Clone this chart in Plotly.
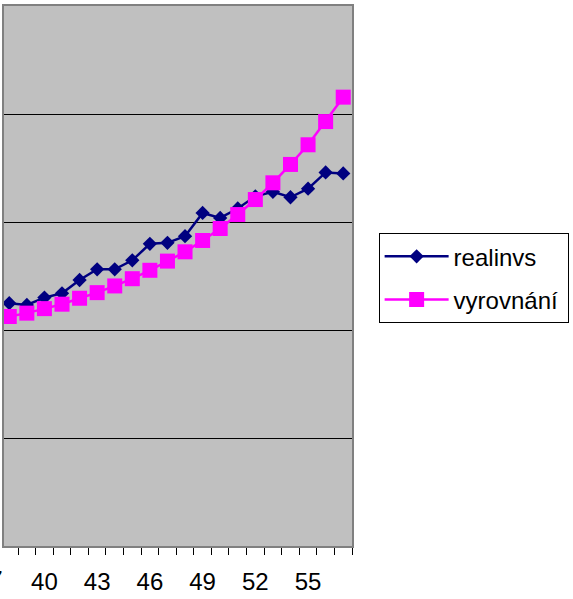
import plotly.graph_objects as go

categories = list(range(38, 58))
realinvs = [224.8, 223.2, 230.0, 234.0, 246.3, 256.2, 256.2, 264.5, 279.8, 280.7,
            286.9, 308.4, 303.8, 312.5, 323.8, 328.0, 322.9, 330.9, 345.9, 345.0]
vyrovnani = [212.5, 215.6, 219.8, 223.9, 229.4, 234.6, 240.8, 247.5, 255.3, 263.8,
             272.4, 282.9, 294.0, 306.9, 320.8, 336.3, 353.3, 371.5, 393.0, 415.6]
tick_labels = [40, 43, 46, 49, 52, 55]
hidden_label = 37

FONT = "Liberation Sans, Arial, sans-serif"
FS = 24
x_range = [37.7, 57.5]
PAD = "\u2009"

fig = go.Figure()
fig.add_trace(go.Scatter(
    x=categories, y=realinvs, name="realinvs", mode="lines+markers",
    line=dict(color="#000080", width=2.5),
    marker=dict(symbol="diamond", size=11, color="#000080"),
    legendgroup="a",
))
fig.add_trace(go.Scatter(
    x=categories, y=vyrovnani, name="vyrovnání" + PAD, mode="lines+markers",
    line=dict(color="#ff00ff", width=2.5),
    marker=dict(symbol="square", size=15, color="#ff00ff"),
    legendgroup="b",
))

fig.update_layout(
    width=573, height=599,
    margin=dict(l=4, r=216, t=4, b=53),
    paper_bgcolor="white",
    plot_bgcolor="#c0c0c0",
    font=dict(family=FONT, size=FS, color="black"),
    showlegend=True,
    legend=dict(
        x=1.0765, y=0.5793, xanchor="left", yanchor="top",
        bgcolor="white", bordercolor="black", borderwidth=1,
        font=dict(family=FONT, size=FS, color="black"),
        itemwidth=64, tracegroupgap=9,
    ),
    xaxis=dict(
        range=x_range,
        tickmode="array", tickvals=tick_labels, ticktext=[str(v) for v in tick_labels],
        ticks="", showgrid=False, zeroline=False,
        showline=True, linecolor="#808080", linewidth=2, mirror=True,
        minor=dict(ticks="outside", tick0=0.5, dtick=1, ticklen=7,
                   tickcolor="black", tickwidth=1, showgrid=False),
        ticklabelstandoff=13,
        tickfont=dict(family=FONT, size=FS, color="black"),
    ),
    yaxis=dict(
        range=[0, 500], dtick=100, showticklabels=False, ticks="",
        showgrid=True, gridcolor="black", gridwidth=1, zeroline=False,
        showline=True, linecolor="#808080", linewidth=2, mirror=True,
    ),
)

# partially visible category label left of the visible plot area
fig.add_annotation(
    x=(hidden_label - x_range[0]) / (x_range[1] - x_range[0]), xref="paper",
    xanchor="center", xshift=-2,
    y=0, yref="paper", yanchor="top", yshift=-18,
    text=str(hidden_label), showarrow=False,
    font=dict(family=FONT, size=FS, color="black"),
)

fig.write_html("out.html", config={"displayModeBar": False},
               post_script="document.body.style.margin='0';")
